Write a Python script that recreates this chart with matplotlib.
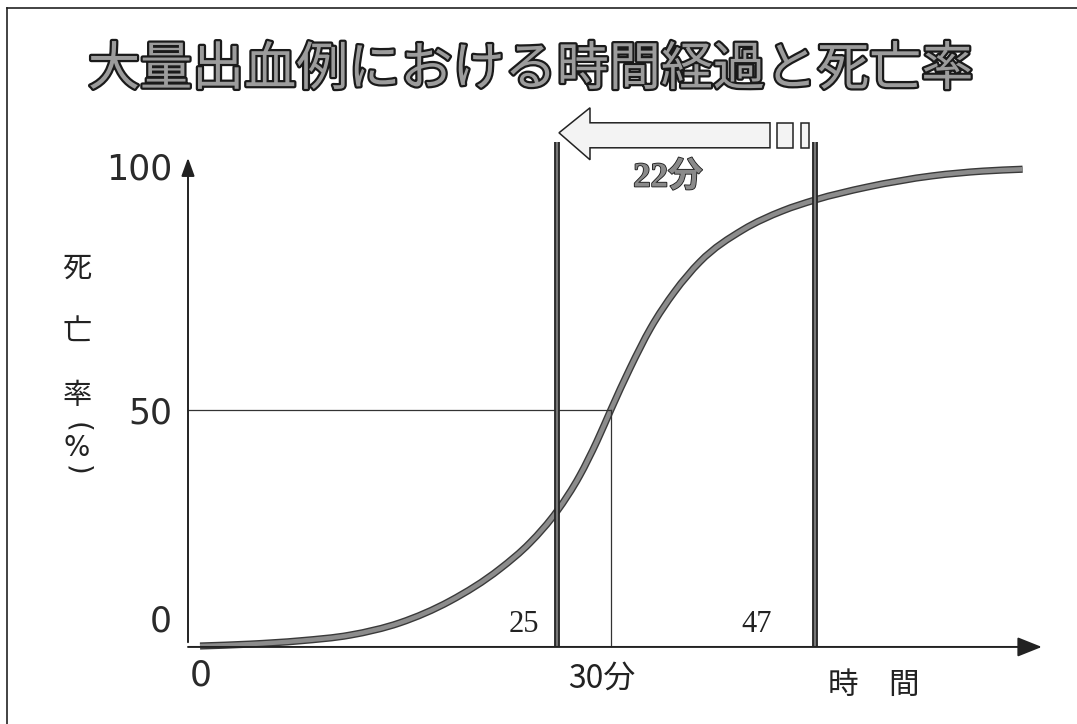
import numpy as np
import matplotlib.pyplot as plt
from matplotlib import patheffects as pe
from matplotlib.lines import Line2D
from matplotlib.path import Path
from matplotlib.patches import PathPatch, Polygon, Rectangle
from matplotlib.transforms import IdentityTransform

plt.rcParams['font.family'] = ['Noto Sans CJK JP', 'DejaVu Sans']

# mortality curve: elapsed time (min) vs mortality (%)
time_min = [0, 3.5, 7.0, 10.5, 14.0, 17.5, 21.0, 23.1, 25.0, 27.1, 28.7, 30.0,
            31.6, 33.3, 35.3, 37.4, 41.0, 44.3, 47.0, 51.3, 56.8, 61.0, 64.3]
mortality = [0, 0.4, 1.1, 2.3, 4.9, 9.5, 16.3, 21.8, 28.5, 36.0, 43.3, 50.0,
             58.8, 67.2, 74.9, 81.2, 88.0, 92.0, 94.3, 97.0, 99.4, 100.4, 100.8]

t_early, t_half, t_late = 25, 30, 47
half_rate = 50
ytick_values = [0, 50, 100]
ytick_labels = ['0', '50', '100']

title = '大量出血例における時間経過と死亡率'
ylabel_chars = ['死', '亡', '率']
xlabel = '時\u3000間'
gap_label = f'{t_late - t_early}分'

# the time axis is schematic: marked times are not evenly spaced
knot_t = np.array([-20, 0, 25, 30, 47, 80])
knot_u = np.array([-285.6, 0, 357, 411, 615, 1011])


def fwd(t):
    return np.interp(t, knot_t, knot_u)


def inv(u):
    return np.interp(u, knot_u, knot_t)


def smooth_path(pts):
    # cubic Hermite through the points (in screen space), as Bezier segments
    x, y = pts[:, 0], pts[:, 1]
    h = np.diff(x)
    s = np.diff(y) / h
    m = np.empty(len(x))
    m[0], m[-1] = s[0], s[-1]
    m[1:-1] = (s[:-1] * h[1:] + s[1:] * h[:-1]) / (h[:-1] + h[1:])
    verts = [pts[0]]
    codes = [Path.MOVETO]
    for i in range(len(x) - 1):
        d = h[i] / 3
        verts += [(x[i] + d, y[i] + m[i] * d), (x[i + 1] - d, y[i + 1] - m[i + 1] * d),
                  (x[i + 1], y[i + 1])]
        codes += [Path.CURVE4] * 3
    return Path(verts, codes)


fig = plt.figure(figsize=(10.77, 7.24), dpi=100)
ax = fig.add_axes([0, 0, 1, 1])
ax.set_xscale('function', functions=(fwd, inv))
ax.set_xlim(inv(-200), inv(877))
ax.set_ylim(-78 / 4.73, (724 - 78) / 4.73)
ax.axis('off')
fig.canvas.draw()

dark = '#222222'
axis_t = float(inv(-12))

# frame around the slide
fig.add_artist(Line2D([7 / 1077, 1], [1 - 8 / 724, 1 - 8 / 724], color=dark, lw=1.2))
fig.add_artist(Line2D([7 / 1077, 7 / 1077], [0, 1 - 8 / 724], color=dark, lw=1.2))

# axes with arrow heads
ax.annotate('', xy=(axis_t, 103.2), xytext=(axis_t, 0.8),
            arrowprops=dict(arrowstyle='-|>,head_length=1.1,head_width=0.4',
                            lw=1.4, color=dark, facecolor='#666666',
                            shrinkA=0, shrinkB=0))
ax.annotate('', xy=(65.9, -0.2), xytext=(axis_t, -0.2),
            arrowprops=dict(arrowstyle='-|>,head_length=1.5,head_width=0.6',
                            lw=1.4, color=dark, facecolor='#777777',
                            shrinkA=0, shrinkB=0))

# guide lines for the 50% point
ax.plot([axis_t, t_half], [half_rate, half_rate], color='#333333', lw=0.9)
ax.plot([t_half, t_half], [0, half_rate], color='#333333', lw=0.9)

# thick markers at 25 and 47 min
for t in (t_early, t_late):
    ax.plot([t, t], [0, 106.5], color='#777777', lw=1.6, solid_capstyle='butt',
            path_effects=[pe.Stroke(linewidth=4.2, foreground='#262626'), pe.Normal()])

# the mortality curve
curve_pts = ax.transData.transform(np.column_stack([time_min, mortality]))
ax.add_patch(PathPatch(smooth_path(curve_pts), transform=IdentityTransform(),
                       fill=False, edgecolor='#8c8c8c', lw=3.2, capstyle='butt',
                       joinstyle='round',
                       path_effects=[pe.Stroke(linewidth=5.2, foreground='#3a3a3a'),
                                     pe.Normal()]))

# y tick labels
ytick_offsets = [14, -14.5, -7]
for v, lab, dy in zip(ytick_values, ytick_labels, ytick_offsets):
    ax.annotate(lab, xy=(axis_t, v), xytext=(-16, dy), textcoords='offset pixels',
                ha='right', va='baseline', fontsize=25, color='#2a2a2a',
                family='DejaVu Sans')

# x labels
ax.annotate('0', xy=(0, 0), xytext=(1, -39), textcoords='offset pixels',
            ha='center', va='baseline', fontsize=25, color='#2a2a2a',
            family='DejaVu Sans')
ax.annotate(f'{t_half}分', xy=(t_half, 0), xytext=(-9, -42), textcoords='offset pixels',
            ha='center', va='baseline', fontsize=23, color=dark)
for t, dx in ((t_early, -18), (t_late, -43)):
    ax.annotate(str(t), xy=(t, 0), xytext=(dx, 14), textcoords='offset pixels',
                ha='right', va='baseline', fontsize=22, color=dark,
                family='Liberation Serif')

fig.text(874 / 1077, 1 - 685 / 724, xlabel, ha='center', va='center',
         fontsize=22, color=dark)

# vertical y label: 死 亡 率 （%）
for ch, yc in zip(ylabel_chars, [269, 332, 396]):
    fig.text(77 / 1077, 1 - yc / 724, ch, ha='center', va='center',
             fontsize=21, color=dark)
fig.text(77 / 1077, 1 - 427 / 724, '(', rotation=-90, ha='center', va='center',
         fontsize=20, color=dark, family='DejaVu Sans')
fig.text(77 / 1077, 1 - 448 / 724, '%', ha='center', va='center',
         fontsize=20, color=dark, family='DejaVu Sans')
fig.text(77 / 1077, 1 - 470 / 724, ')', rotation=-90, ha='center', va='center',
         fontsize=20, color=dark, family='DejaVu Sans')

# title
fig.text(531 / 1077, 1 - 70 / 724, title, ha='center', va='center',
         fontsize=37.5, weight='normal', color='#9c9c9c',
         path_effects=[pe.withStroke(linewidth=3.2, foreground='#1a1a1a')])

# interval label
fig.text(668 / 1077, 1 - 178 / 724, gap_label, ha='center', va='center',
         fontsize=25, weight='bold', color='#8a8a8a',
         family=['Liberation Serif', 'Noto Sans CJK JP'],
         path_effects=[pe.withStroke(linewidth=1.2, foreground='#1a1a1a')])

# hollow block arrow pointing back from 47 min to 25 min
x0, y0 = ax.transData.transform((t_early, 108.5))
x0 += 2
head = [(0, 0), (31, -25), (31, -10), (211, -10), (211, 15), (31, 15), (31, 27)]
ax.add_patch(Polygon([(x0 + dx, y0 - dy) for dx, dy in head], closed=True,
                     transform=IdentityTransform(), facecolor='#f3f3f3',
                     edgecolor=dark, lw=1.1, clip_on=False))
for left, width in ((218, 16), (242, 8)):
    ax.add_patch(Rectangle((x0 + left, y0 - 15), width, 25,
                           transform=IdentityTransform(), facecolor='#f3f3f3',
                           edgecolor=dark, lw=1.1, clip_on=False))

fig.savefig('out.png', dpi=100)
